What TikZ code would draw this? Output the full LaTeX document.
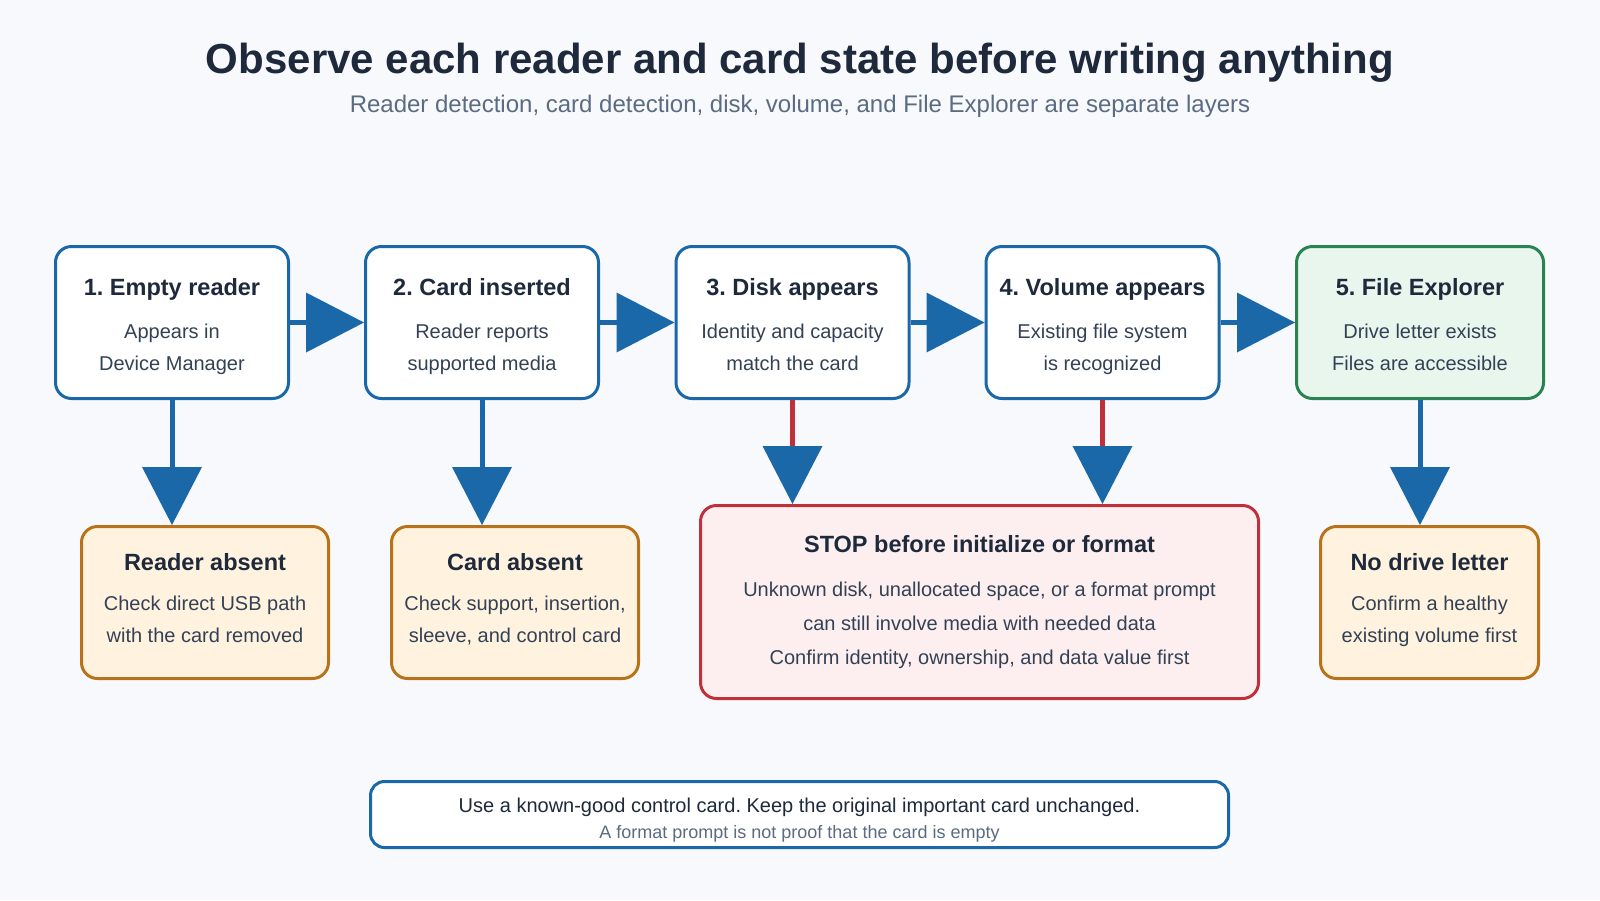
\documentclass[tikz,border=0pt]{standalone}
\usepackage{fontspec}
\setmainfont{Liberation Sans}
\frenchspacing
\usetikzlibrary{arrows.meta,positioning}
\definecolor{pagebg}{HTML}{F7F9FC}
\definecolor{ink}{HTML}{1E293B}
\definecolor{inkbody}{HTML}{334155}
\definecolor{inkgray}{HTML}{5B6B82}
\definecolor{flowblue}{HTML}{1B68A8}
\definecolor{warnorange}{HTML}{B8731A}
\definecolor{warnfill}{HTML}{FFF3E0}
\definecolor{stopred}{HTML}{C0303A}
\definecolor{stopfill}{HTML}{FDEFEF}
\definecolor{okgreen}{HTML}{2A8451}
\definecolor{okfill}{HTML}{E8F6EE}

\begin{document}
\begin{tikzpicture}[x=1pt,y=-1pt,
    stagebox/.style={draw=flowblue,line width=3pt,fill=white,rounded corners=16pt,
      minimum width=233pt,minimum height=152pt,inner sep=0pt},
    warnbox/.style={stagebox,draw=warnorange,fill=warnfill,minimum width=247pt},
    boxtitle/.style={anchor=base,text=ink,font=\fontsize{23.5}{28}\selectfont\bfseries},
    boxbody/.style={anchor=base,text=inkbody,align=center,font=\fontsize{20}{31.5}\selectfont},
    flow/.style={flowblue,line width=5pt,-{Triangle[length=58pt,width=60pt,line width=0pt]}},
    stopflow/.style={stopred,line width=5pt,
      -{Triangle[length=58pt,width=60pt,line width=0pt,color=flowblue,fill=flowblue]}}]
  \fill[pagebg] (0,0) rectangle (1600,900);
  \useasboundingbox (0,0) rectangle (1600,900);
  % heading
  \node[anchor=base,text=ink,font=\fontsize{42}{50}\selectfont\bfseries] (title) at (800,73)
    {Observe each reader and card state before writing anything};
  \node[anchor=base,text=inkgray,font=\fontsize{24}{28}\selectfont] (subtitle) at (800,112)
    {Reader detection, card detection, disk, volume, and File Explorer are separate layers};
  % stages
  \node[stagebox] (empty) at (172,322.5) {};
  \node[stagebox] (inserted) at (482,322.5) {};
  \node[stagebox] (disk) at (792.5,322.5) {};
  \node[stagebox] (volume) at (1102.5,322.5) {};
  \node[stagebox,draw=okgreen,fill=okfill,minimum width=247pt] (explorer) at (1420,322.5) {};
  \node[boxtitle] (emptyt) at (172,295) {1. Empty reader};
  \node[boxbody] (emptyb) at (172,370) {Appears in\\Device Manager};
  \node[boxtitle] (insertedt) at (482,295) {2. Card inserted};
  \node[boxbody] (insertedb) at (482,370) {Reader reports\\supported media};
  \node[boxtitle] (diskt) at (792.5,295) {3. Disk appears};
  \node[boxbody] (diskb) at (792.5,370) {Identity and capacity\\match the card};
  \node[boxtitle] (volumet) at (1102.5,295) {4. Volume appears};
  \node[boxbody] (volumeb) at (1102.5,370) {Existing file system\\is recognized};
  \node[boxtitle] (explorert) at (1420,295) {5. File Explorer};
  \node[boxbody] (explorerb) at (1420,370) {Drive letter exists\\Files are accessible};
  % outcomes
  \node[warnbox] (readerabsent) at (205,602.5) {};
  \node[warnbox] (cardabsent) at (515,602.5) {};
  \node[stagebox,draw=stopred,fill=stopfill,minimum width=558pt,minimum height=193pt] (stopbox) at (979.5,602) {};
  \node[warnbox,minimum width=218pt] (noletter) at (1429.5,602.5) {};
  \node[boxtitle] (readerabsentt) at (205,570) {Reader absent};
  \node[boxbody] (readerabsentb) at (205,642) {Check direct USB path\\with the card removed};
  \node[boxtitle] (cardabsentt) at (515,570) {Card absent};
  \node[boxbody] (cardabsentb) at (515,642) {Check support, insertion,\\sleeve, and control card};
  \node[boxtitle] (stopt) at (979.5,552) {STOP before initialize or format};
  \node[boxbody,font=\fontsize{20}{34}\selectfont] (stopb) at (979.5,664)
    {Unknown disk, unallocated space, or a format prompt\\can still involve media with needed data\\Confirm identity, ownership, and data value first};
  \node[boxtitle] (nolettert) at (1429.5,570) {No drive letter};
  \node[boxbody] (noletterb) at (1429.5,642) {Confirm a healthy\\existing volume first};
  % connectors
  \draw[flow] (empty) -- (inserted);
  \draw[flow] (inserted) -- (disk);
  \draw[flow] (disk) -- (volume);
  \draw[flow] (volume) -- (explorer);
  \draw[flow] (empty.south) -- (empty.south |- readerabsent.north);
  \draw[flow] (inserted.south) -- (inserted.south |- cardabsent.north);
  \draw[stopflow] (disk.south) -- (disk.south |- stopbox.north);
  \draw[stopflow] (volume.south) -- (volume.south |- stopbox.north);
  \draw[flow] (explorer.south) -- (explorer.south |- noletter.north);
  % footer note
  \node[stagebox,minimum width=858pt,minimum height=66pt,rounded corners=14pt] (note) at (799.5,814.5) {};
  \node[anchor=base,text=ink,font=\fontsize{20}{24}\selectfont] (notea) at (799.5,812)
    {Use a known-good control card. Keep the original important card unchanged.};
  \node[anchor=base,text=inkgray,font=\fontsize{18}{21}\selectfont] (noteb) at (799.5,838)
    {A format prompt is not proof that the card is empty};
\end{tikzpicture}
\end{document}
